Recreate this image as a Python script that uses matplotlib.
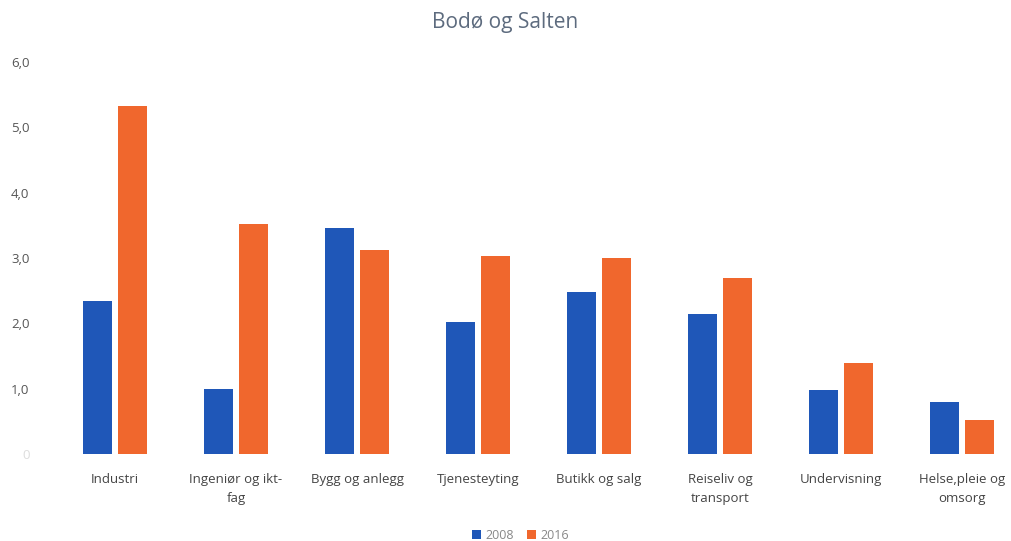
import numpy as np
import matplotlib
matplotlib.use('Agg')
from matplotlib import pyplot as plt

# Data
categories = ['Industri', 'Ingeniør og ikt-\nfag', 'Bygg og anlegg', 'Tjenesteyting',
              'Butikk og salg', 'Reiseliv og\ntransport', 'Undervisning',
              'Helse,pleie og\nomsorg']
values_2008 = [2.34, 0.99, 3.46, 2.02, 2.48, 2.14, 0.98, 0.80]
values_2016 = [5.32, 3.52, 3.12, 3.03, 3.00, 2.69, 1.39, 0.52]
yticks = [0, 1, 2, 3, 4, 5, 6]

blue = '#1f57b8'
orange = '#f0672d'

plt.rcParams['font.family'] = ['Open Sans', 'DejaVu Sans']

fig = plt.figure(figsize=(10.11, 5.41), dpi=100)
ax = fig.add_axes([60 / 1011, 87 / 541, 951 / 1011, 392 / 541])

x = np.arange(len(categories))
w = 0.235
off = 0.145
ax.bar(x - off, values_2008, w, color=blue, label='2008')
ax.bar(x + off, values_2016, w, color=orange, label='2016')

ax.set_xlim(-0.455, 7.405)
ax.set_ylim(0, 6)
ax.set_yticks(yticks)
ax.set_yticklabels(['0'] + ['%d,0' % t for t in yticks[1:]], fontsize=9.5, color='#555555')
ax.get_yticklabels()[0].set_color('#dddddd')
ax.set_xticks(x)
ax.set_xticklabels(categories, fontsize=9.5, color='#444444', linespacing=1.6)
ax.tick_params(axis='both', length=0)
ax.tick_params(axis='y', pad=22)
ax.tick_params(axis='x', pad=14)
for s in ax.spines.values():
    s.set_visible(False)

fig.suptitle('Bodø og Salten', y=0.977, fontsize=15, color='#5d6b7e')
fig.legend(loc='lower center', bbox_to_anchor=(0.515, -0.022), ncol=2, frameon=False,
           fontsize=9, labelcolor='#888888', handlelength=0.7, handleheight=0.7,
           handletextpad=0.4, columnspacing=1.0)

fig.savefig('out.png', dpi=100)
